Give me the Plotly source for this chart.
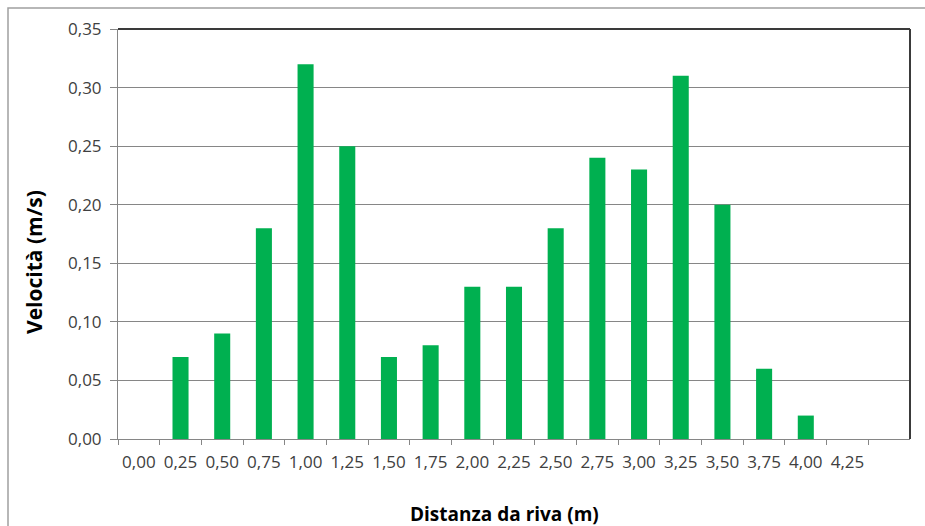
import plotly.graph_objects as go

# Distance from the bank (m) and measured flow velocity (m/s)
distanze = ["0,00", "0,25", "0,50", "0,75", "1,00", "1,25", "1,50", "1,75", "2,00",
            "2,25", "2,50", "2,75", "3,00", "3,25", "3,50", "3,75", "4,00", "4,25"]
velocita = [0.00, 0.07, 0.09, 0.18, 0.32, 0.25, 0.07, 0.08, 0.13,
            0.13, 0.18, 0.24, 0.23, 0.31, 0.20, 0.06, 0.02, 0.00]
y_ticks = [0.00, 0.05, 0.10, 0.15, 0.20, 0.25, 0.30, 0.35]
y_labels = ["0,00", "0,05", "0,10", "0,15", "0,20", "0,25", "0,30", "0,35"]

x_title = "Distanza da riva (m)"
y_title = "Velocità (m/s)"

W, H = 925, 526
L, R, T, B = 118, 15, 29, 87
pw, ph = W - L - R, H - T - B


def px_x(p):
    return (p - L) / pw


def px_y(p):
    return (H - B - p) / ph


font = "'Open Sans', 'Noto Sans', sans-serif"
tick_color = "#404040"

fig = go.Figure(go.Bar(
    x=distanze, y=velocita,
    marker=dict(color="#00b050", line=dict(width=0)),
))

fig.update_layout(
    width=W, height=H,
    margin=dict(l=L, r=R, t=T, b=B, autoexpand=False),
    paper_bgcolor="white", plot_bgcolor="white",
    bargap=0.615,
    showlegend=False,
    font=dict(family=font, size=14, color=tick_color),
    shapes=[
        # outer chart frame
        dict(type="rect", xref="paper", yref="paper",
             x0=px_x(8), x1=1.2, y0=-0.5, y1=px_y(8),
             line=dict(color="#a0a0a0", width=1.5), fillcolor="rgba(0,0,0,0)", layer="below"),
        # darker plot-area border on top and right
        dict(type="line", xref="paper", yref="paper", x0=0, x1=1, y0=1, y1=1,
             line=dict(color="#3a3a3a", width=2)),
        dict(type="line", xref="paper", yref="paper", x0=1, x1=1, y0=0, y1=1,
             line=dict(color="#3a3a3a", width=2)),
    ],
    annotations=[
        dict(text=f"<b>{x_title}</b>", xref="paper", yref="paper",
             x=px_x(504), y=px_y(514), xanchor="center", yanchor="middle",
             showarrow=False, font=dict(family=font, size=19, color="#000000")),
        dict(text=f"<b>{y_title}</b>", xref="paper", yref="paper",
             x=px_x(34), y=px_y(262), xanchor="center", yanchor="middle",
             textangle=-90, showarrow=False,
             font=dict(family=font, size=21, color="#000000")),
    ],
)

fig.update_xaxes(
    type="category",
    categoryorder="array", categoryarray=distanze,
    range=[-0.5, len(distanze) + 0.5],
    tickson="boundaries",
    ticks="outside", ticklen=5, tickcolor="#868686", tickwidth=1,
    showline=True, linecolor="#868686", linewidth=1,
    showgrid=False,
    automargin=False,
    tickfont=dict(family=font, size=17, color=tick_color),
    tickangle=0,
    ticklabelstandoff=8,
)

fig.update_yaxes(
    range=[0, 0.35],
    tickvals=y_ticks, ticktext=y_labels,
    ticks="outside", ticklen=7, tickcolor="#868686", tickwidth=1,
    showline=True, linecolor="#868686", linewidth=1,
    showgrid=True, gridcolor="#868686", gridwidth=1,
    zeroline=False,
    automargin=False,
    tickfont=dict(family=font, size=17, color=tick_color),
    ticklabelstandoff=5,
)

fig.write_html("out.html")
